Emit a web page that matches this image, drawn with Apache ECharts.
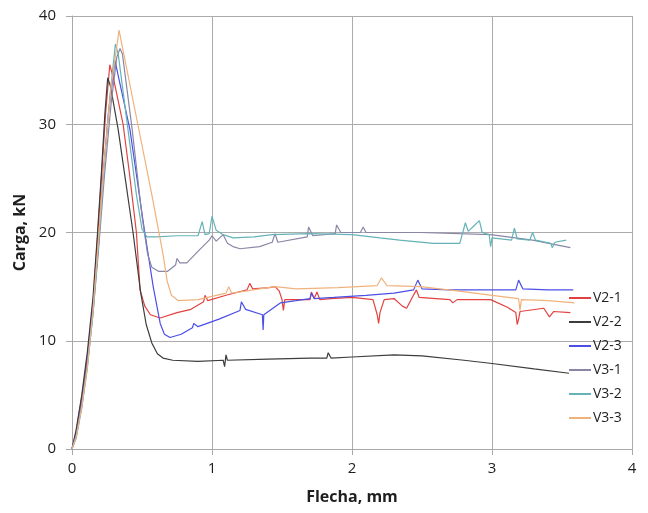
<!DOCTYPE html>
<html>
<head>
<meta charset="utf-8">
<script src="https://cdn.jsdelivr.net/npm/echarts@6/dist/echarts.min.js"></script>
<style>
  html, body { margin: 0; padding: 0; background: #ffffff; }
  #chart { width: 648px; height: 513px; }
</style>
</head>
<body>
<div id="chart"></div>
<script>
// Load–deflection curves, [deflection mm, load kN]
const seriesNames = ['V2-1', 'V2-2', 'V2-3', 'V3-1', 'V3-2', 'V3-3'];
const xTicks = [0, 1, 2, 3, 4];
const yTicks = [0, 10, 20, 30, 40];

const v21 = [
  [0, 0], [0.03, 1.6], [0.07, 4.8], [0.11, 8.5], [0.15, 13.5], [0.18, 19], [0.21, 25],
  [0.24, 31], [0.27, 35.5], [0.3, 34], [0.365, 30], [0.41, 25.5], [0.46, 20], [0.486, 14.7],
  [0.52, 13.2], [0.56, 12.4], [0.63, 12.1], [0.75, 12.6], [0.85, 12.9], [0.94, 13.6],
  [0.95, 14.2], [0.97, 13.7], [1.1, 14.2], [1.25, 14.7], [1.27, 15.3], [1.29, 14.8],
  [1.41, 14.9], [1.45, 15.0], [1.48, 14.6], [1.5, 13.8], [1.51, 12.8], [1.52, 13.8],
  [1.7, 13.8], [1.71, 14.5], [1.73, 13.9], [1.75, 14.5], [1.77, 13.8], [1.85, 13.9],
  [2.0, 14.0], [2.15, 13.8], [2.18, 12.4], [2.19, 11.6], [2.2, 12.6], [2.23, 13.8],
  [2.3, 13.9], [2.36, 13.2], [2.39, 13.0], [2.43, 14.0], [2.46, 14.7], [2.48, 14.0],
  [2.6, 13.9], [2.7, 13.8], [2.72, 13.5], [2.75, 13.8], [2.99, 13.8], [3.11, 13.1],
  [3.17, 12.6], [3.18, 11.5], [3.19, 12.0], [3.2, 12.7], [3.37, 13.0], [3.41, 12.2],
  [3.44, 12.7], [3.56, 12.6]
];

const v22 = [
  [0, 0], [0.03, 1.8], [0.07, 5], [0.11, 9], [0.15, 14], [0.18, 19.5], [0.21, 25.5],
  [0.235, 31], [0.255, 34.3], [0.275, 33.5], [0.33, 29.5], [0.436, 20], [0.49, 14.5],
  [0.53, 11.5], [0.57, 9.8], [0.61, 8.8], [0.65, 8.4], [0.72, 8.2], [0.9, 8.1],
  [1.08, 8.2], [1.09, 7.6], [1.1, 8.7], [1.11, 8.2], [1.4, 8.3], [1.7, 8.4], [1.82, 8.4],
  [1.83, 8.9], [1.85, 8.4], [2.0, 8.5], [2.3, 8.7], [2.5, 8.6], [2.8, 8.2], [3.0, 7.9],
  [3.3, 7.4], [3.55, 7.0]
];

const v23 = [
  [0, 0], [0.03, 1.3], [0.07, 4.2], [0.11, 8], [0.15, 13], [0.19, 19], [0.22, 25],
  [0.26, 31], [0.307, 35.9], [0.33, 34.5], [0.414, 29.5], [0.486, 23], [0.52, 20],
  [0.58, 15], [0.63, 11.6], [0.66, 10.6], [0.7, 10.3], [0.78, 10.6], [0.86, 11.2],
  [0.87, 11.6], [0.9, 11.3], [1.05, 12.0], [1.2, 12.8], [1.21, 13.6], [1.24, 12.9],
  [1.36, 12.4], [1.365, 11.0], [1.37, 12.4], [1.49, 13.5], [1.6, 13.7], [1.7, 13.9],
  [1.71, 14.4], [1.73, 13.9], [1.87, 14.0], [2.1, 14.2], [2.3, 14.4], [2.44, 14.7],
  [2.47, 15.6], [2.5, 14.8], [2.7, 14.7], [3.0, 14.7], [3.17, 14.7], [3.19, 15.6],
  [3.22, 14.8], [3.4, 14.7], [3.58, 14.7]
];

const v31 = [
  [0, 0], [0.03, 1.2], [0.07, 4], [0.11, 7.8], [0.15, 12.5], [0.19, 18.5], [0.23, 25],
  [0.28, 32], [0.32, 36.2], [0.343, 37.0], [0.36, 36.5], [0.43, 29.5], [0.5, 21.5],
  [0.54, 18], [0.57, 16.8], [0.62, 16.4], [0.68, 16.4], [0.74, 17.0], [0.75, 17.6],
  [0.77, 17.2], [0.82, 17.2], [0.91, 18.4], [0.98, 19.3], [1.0, 19.7], [1.03, 19.2],
  [1.08, 19.8], [1.11, 19.0], [1.15, 18.7], [1.2, 18.5], [1.34, 18.7], [1.43, 19.1],
  [1.45, 19.9], [1.47, 19.1], [1.68, 19.6], [1.69, 20.5], [1.72, 19.7], [1.88, 19.9],
  [1.89, 20.7], [1.92, 20.0], [2.06, 20.0], [2.08, 20.5], [2.1, 20.0], [2.49, 20.0],
  [2.99, 19.8], [3.29, 19.3], [3.56, 18.6]
];

const v32 = [
  [0, 0], [0.03, 1.0], [0.07, 3.8], [0.11, 7.5], [0.15, 12.5], [0.19, 19], [0.23, 26],
  [0.27, 32.5], [0.31, 37.4], [0.33, 36.5], [0.4, 29.5], [0.46, 23.5], [0.5, 20.3],
  [0.535, 19.6], [0.6, 19.6], [0.75, 19.7], [0.9, 19.7], [0.93, 21.0], [0.95, 19.8],
  [0.98, 19.9], [1.0, 21.5], [1.03, 20.2], [1.08, 19.8], [1.15, 19.5], [1.3, 19.6],
  [1.43, 19.8], [1.7, 19.9], [2.0, 19.8], [2.2, 19.5], [2.34, 19.3], [2.58, 19.0],
  [2.77, 19.0], [2.81, 20.9], [2.83, 20.1], [2.87, 20.6], [2.91, 21.1], [2.93, 20.0],
  [2.98, 19.8], [2.99, 18.7], [3.0, 19.5], [3.14, 19.3], [3.16, 20.4], [3.18, 19.4],
  [3.27, 19.3], [3.29, 20.0], [3.31, 19.3], [3.42, 19.0], [3.43, 18.6], [3.45, 19.1],
  [3.53, 19.3]
];

const v33 = [
  [0, 0], [0.03, 1.1], [0.07, 3.9], [0.11, 7.6], [0.15, 12.8], [0.19, 19.5], [0.23, 26.5],
  [0.28, 33.5], [0.336, 38.7], [0.47, 30], [0.57, 23.5], [0.65, 18], [0.68, 15.5],
  [0.71, 14.2], [0.76, 13.7], [0.9, 13.8], [1.1, 14.4], [1.12, 15.0],
  [1.14, 14.4], [1.25, 14.6], [1.34, 14.8], [1.45, 15.0], [1.6, 14.8], [1.9, 14.9],
  [2.18, 15.1], [2.21, 15.8], [2.25, 15.1], [2.49, 15.0], [2.75, 14.6], [3.0, 14.2],
  [3.19, 13.9], [3.2, 12.8], [3.21, 13.8], [3.4, 13.7], [3.59, 13.5]
];

const seriesData = [v21, v22, v23, v31, v32, v33];
const seriesColors = ['#e2413f', '#3c3c3c', '#4b4fe6', '#8a86a6', '#65b3b8', '#f0b27c'];

const chart = echarts.init(document.getElementById('chart'), null, { renderer: 'canvas' });

const axisFont = { fontFamily: 'Open Sans', fontSize: 15, color: '#1e1e1e' };
const gridLine = { lineStyle: { color: '#ababab', width: 1 } };

chart.setOption({
  backgroundColor: '#ffffff',
  animation: false,
  grid: { left: 72, right: 16, top: 16, bottom: 64, containLabel: false },
  legend: {
    orient: 'vertical',
    left: 564,
    top: 286,
    itemWidth: 22,
    itemHeight: 2,
    itemGap: 10,
    icon: 'rect',
    data: seriesNames,
    textStyle: { fontFamily: 'Open Sans', fontSize: 14, color: '#1e1e1e', lineHeight: 14, padding: [0, 0, 0, -3] }
  },
  xAxis: {
    type: 'value',
    min: xTicks[0],
    max: xTicks[xTicks.length - 1],
    interval: 1,
    name: 'Flecha, mm',
    nameLocation: 'middle',
    nameGap: 40,
    nameTextStyle: { fontFamily: 'Open Sans', fontSize: 16, fontWeight: 'bold', color: '#1e1e1e' },
    axisLine: { show: true, lineStyle: { color: '#a8a8a8' } },
    axisTick: { show: true, length: 6, lineStyle: { color: '#a8a8a8' } },
    axisLabel: Object.assign({ margin: 12 }, axisFont),
    splitLine: Object.assign({ show: true }, gridLine)
  },
  yAxis: {
    type: 'value',
    min: yTicks[0],
    max: yTicks[yTicks.length - 1],
    interval: 10,
    name: 'Carga, kN',
    nameLocation: 'middle',
    nameGap: 42,
    nameRotate: 90,
    nameTextStyle: { fontFamily: 'Open Sans', fontSize: 16, fontWeight: 'bold', color: '#1e1e1e' },
    axisLine: { show: true, lineStyle: { color: '#a8a8a8' } },
    axisTick: { show: true, length: 6, lineStyle: { color: '#a8a8a8' } },
    axisLabel: Object.assign({ margin: 16 }, axisFont),
    splitLine: Object.assign({ show: true }, gridLine)
  },
  series: seriesNames.map((name, i) => ({
    name: name,
    type: 'line',
    data: seriesData[i],
    showSymbol: false,
    symbol: 'none',
    color: seriesColors[i],
    lineStyle: { width: 1.2, color: seriesColors[i] },
    z: 2 + i
  }))
});
</script>
</body>
</html>
